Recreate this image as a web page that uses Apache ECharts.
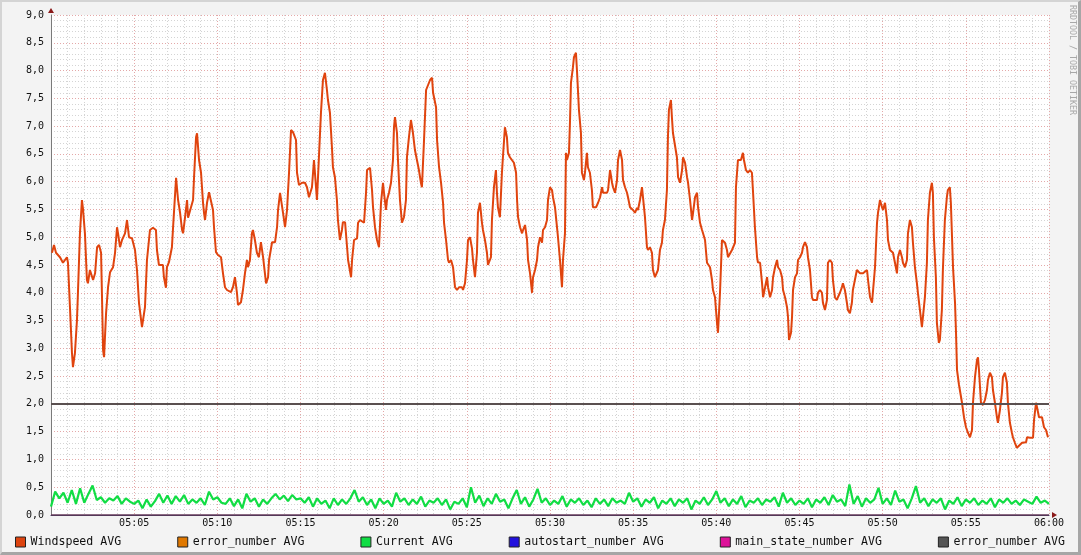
<!DOCTYPE html>
<html>
<head>
<meta charset="utf-8">
<script src="https://cdn.jsdelivr.net/npm/echarts@6/dist/echarts.min.js"></script>
<style>
html,body{margin:0;padding:0;background:#f3f3f3;}
#wrap{position:relative;width:1081px;height:555px;}
#chart{position:absolute;left:0;top:0;width:1081px;height:555px;}
#frame{position:absolute;left:0;top:0;width:1081px;height:555px;box-sizing:border-box;
 border-top:2px solid #d4d4d4;border-left:2px solid #d4d4d4;border-right:3px solid #a6a6a6;border-bottom:3px solid #a6a6a6;pointer-events:none;}
</style>
</head>
<body>
<div id="wrap"><div id="chart"></div><div id="frame"></div></div>
<script>
// ---- data (minutes after 05:00, value) ----
const seriesNames = ['Windspeed AVG','error_number AVG','Current AVG','autostart_number AVG','main_state_number AVG','error_number AVG '];
const seriesColors = ['#dd4410','#e07800','#11dd44','#2211dd','#dd1199','#555555'];
const xTickLabels = ['05:00','05:05','05:10','05:15','05:20','05:25','05:30','05:35','05:40','05:45','05:50','05:55','06:00'];
const windspeed = [
[0.06,4.72],[0.18,4.86],[0.30,4.72],[0.54,4.64],[0.72,4.54],[0.96,4.64],[1.02,4.54],[1.14,3.74],[1.26,2.92],[1.32,2.66],
[1.44,2.92],[1.56,3.5],[1.62,4.0],[1.74,5.07],[1.86,5.67],[1.92,5.52],[2.04,5.07],[2.16,4.23],[2.22,4.17],[2.34,4.41],
[2.53,4.23],[2.65,4.35],[2.77,4.82],[2.89,4.86],[3.01,4.72],[3.07,3.87],[3.13,2.97],[3.19,2.84],[3.31,3.63],[3.43,4.1],
[3.55,4.37],[3.73,4.46],[3.85,4.72],[3.97,5.18],[4.03,5.07],[4.15,4.82],[4.27,4.95],[4.45,5.07],[4.57,5.31],[4.69,5.0],
[4.87,4.98],[5.05,4.77],[5.17,4.41],[5.29,3.82],[5.47,3.38],[5.53,3.37],[5.65,3.74],[5.77,4.59],[5.95,5.13],[6.13,5.17],
[6.31,5.13],[6.37,4.77],[6.49,4.5],[6.73,4.5],[6.79,4.28],[6.91,4.09],[6.97,4.46],[7.09,4.55],[7.27,4.82],[7.33,5.13],
[7.52,6.07],[7.64,5.67],[7.76,5.44],[7.88,5.13],[7.94,5.07],[8.06,5.36],[8.18,5.67],[8.24,5.35],[8.36,5.36],[8.54,5.67],
[8.60,6.08],[8.72,6.8],[8.78,6.87],[8.90,6.39],[9.02,6.16],[9.14,5.62],[9.20,5.44],[9.26,5.31],[9.38,5.62],[9.50,5.81],
[9.62,5.81],[9.74,5.49],[9.80,5.18],[9.92,4.73],[10.04,4.68],[10.22,4.64],[10.34,4.35],[10.46,4.1],[10.58,4.05],[10.82,4.01],
[10.94,4.1],[11.06,4.28],[11.18,4.0],[11.24,3.78],[11.42,3.83],[11.54,4.05],[11.66,4.35],[11.78,4.59],[11.84,4.46],[11.96,4.59],
[12.08,5.07],[12.14,5.13],[12.26,4.95],[12.38,4.72],[12.50,4.64],[12.62,4.91],[12.75,4.64],[12.93,4.17],[13.05,4.28],[13.11,4.59],
[13.29,4.91],[13.47,4.91],[13.59,5.18],[13.65,5.49],[13.77,5.8],[13.89,5.8],[13.95,5.44],[14.07,5.18],[14.19,5.49],[14.31,6.16],
[14.43,6.93],[14.55,6.89],[14.73,6.75],[14.79,6.16],[14.91,5.94],[15.09,5.98],[15.27,5.98],[15.39,5.9],[15.51,5.72],[15.69,5.9],
[15.81,6.39],[15.93,6.39],[15.99,5.67],[16.11,5.67],[16.23,7.24],[16.35,7.83],[16.47,7.96],[16.59,7.65],[16.65,7.47],[16.77,7.24],
[16.89,6.62],[16.95,6.26],[17.07,6.08],[17.19,5.67],[17.25,5.31],[17.37,4.95],[17.49,5.13],[17.55,5.27],[17.68,5.27],[17.80,4.82],
[17.86,4.59],[18.04,4.28],[18.10,4.59],[18.22,4.95],[18.40,4.98],[18.46,5.26],[18.58,5.31],[18.82,5.26],[18.94,5.8],[19.00,6.21],
[19.18,6.25],[19.30,5.85],[19.36,5.54],[19.48,5.18],[19.60,4.95],[19.72,4.82],[19.84,5.62],[19.96,5.98],[20.02,5.8],[20.14,5.49],
[20.20,5.67],[20.32,5.8],[20.44,5.98],[20.56,6.39],[20.62,6.98],[20.68,7.16],[20.80,6.88],[20.86,6.39],[20.98,5.67],[21.10,5.26],
[21.22,5.36],[21.34,5.67],[21.40,6.44],[21.52,6.8],[21.64,7.11],[21.76,6.88],[21.88,6.57],[22.00,6.39],[22.12,6.21],[22.24,5.98],
[22.30,5.9],[22.42,6.7],[22.55,7.65],[22.67,7.74],[22.79,7.83],[22.91,7.87],[22.97,7.6],[23.15,7.34],[23.21,6.75],[23.33,6.26],
[23.45,5.98],[23.57,5.62],[23.63,5.26],[23.75,4.95],[23.87,4.59],[23.93,4.54],[24.05,4.59],[24.17,4.46],[24.29,4.1],[24.41,4.05],
[24.53,4.1],[24.71,4.1],[24.77,4.05],[24.89,4.17],[25.01,4.59],[25.07,4.95],[25.19,5.0],[25.31,4.8],[25.37,4.59],[25.49,4.28],
[25.61,4.72],[25.67,5.44],[25.79,5.62],[25.91,5.26],[25.97,5.13],[26.09,4.95],[26.21,4.72],[26.27,4.5],[26.45,4.64],[26.51,5.31],
[26.63,5.9],[26.75,6.21],[26.81,5.8],[26.87,5.54],[26.99,5.36],[27.11,6.16],[27.17,6.44],[27.29,6.98],[27.41,6.8],[27.47,6.52],
[27.59,6.44],[27.71,6.43],[27.83,6.34],[27.96,6.16],[28.02,5.67],[28.08,5.36],[28.20,5.18],[28.32,5.07],[28.38,5.13],[28.50,5.22],
[28.62,4.95],[28.68,4.59],[28.80,4.35],[28.92,4.0],[28.98,4.28],[29.10,4.41],[29.22,4.59],[29.28,4.82],[29.40,5.0],[29.52,4.9],
[29.58,5.13],[29.70,5.18],[29.82,5.31],[29.88,5.67],[30.00,5.9],[30.12,5.85],[30.18,5.72],[30.30,5.54],[30.42,5.18],[30.48,5.0],
[30.60,4.59],[30.72,4.1],[30.78,4.59],[30.90,5.07],[30.96,6.52],[31.02,6.39],[31.14,6.52],[31.20,7.06],[31.26,7.78],[31.38,8.06],
[31.44,8.24],[31.56,8.32],[31.62,8.01],[31.68,7.65],[31.74,7.29],[31.86,6.88],[31.92,6.16],[32.04,6.03],[32.10,6.16],[32.22,6.52],
[32.28,6.26],[32.40,6.16],[32.52,5.85],[32.58,5.54],[32.77,5.54],[32.89,5.62],[33.01,5.72],[33.13,5.9],[33.19,5.8],[33.43,5.8],
[33.49,5.85],[33.61,6.21],[33.73,5.98],[33.79,5.9],[33.91,5.8],[34.03,6.03],[34.09,6.39],[34.21,6.57],[34.33,6.39],[34.39,6.03],
[34.51,5.9],[34.63,5.8],[34.69,5.72],[34.81,5.54],[34.93,5.54],[34.99,5.49],[35.11,5.44],[35.23,5.53],[35.29,5.49],[35.41,5.67],
[35.53,5.9],[35.59,5.72],[35.71,5.36],[35.83,4.82],[35.89,4.77],[36.01,4.82],[36.13,4.72],[36.19,4.41],[36.31,4.28],[36.43,4.28],
[36.49,4.41],[36.61,4.77],[36.73,4.9],[36.79,5.13],[36.91,5.31],[37.03,5.85],[37.09,6.8],[37.15,7.29],[37.27,7.47],[37.33,7.16],
[37.39,6.88],[37.51,6.88],[37.63,6.44],[37.70,6.08],[37.82,5.98],[37.94,6.21],[38.00,6.44],[38.12,6.34],[38.24,6.08],[38.30,5.98],
[38.42,5.67],[38.54,5.31],[38.60,5.44],[38.72,5.72],[38.84,5.8],[38.90,5.54],[39.02,5.26],[39.14,5.13],[39.20,5.07],[39.32,4.95],
[39.44,4.54],[39.50,4.54],[39.62,4.46],[39.74,4.23],[39.80,4.05],[39.92,3.92],[40.04,3.46],[40.10,3.28],[40.22,4.0],[40.34,4.95],
[40.40,4.95],[40.52,4.9],[40.64,4.77],[40.70,4.64],[40.82,4.64],[40.94,4.77],[41.00,4.77],[41.12,4.9],[41.18,5.9],[41.30,6.39],
[41.48,6.39],[41.60,6.52],[41.66,6.39],[41.78,6.21],[41.90,6.16],[42.02,6.21],[42.14,6.16],[42.20,5.85],[42.32,5.18],[42.45,4.64],
[42.50,4.55],[42.63,4.54],[42.75,4.17],[42.81,3.92],[42.93,4.1],[43.05,4.28],[43.11,4.1],[43.23,3.92],[43.35,4.05],[43.41,4.28],
[43.53,4.46],[43.65,4.59],[43.71,4.46],[43.83,4.41],[43.95,4.28],[44.01,4.05],[44.13,3.92],[44.25,3.74],[44.31,3.56],[44.37,3.15],
[44.49,3.28],[44.55,3.56],[44.61,4.05],[44.73,4.28],[44.85,4.35],[44.91,4.59],[45.03,4.64],[45.15,4.72],[45.21,4.82],[45.33,4.91],
[45.45,4.82],[45.51,4.64],[45.63,4.41],[45.75,3.92],[45.81,3.87],[46.05,3.87],[46.11,4.0],[46.23,4.05],[46.35,4.0],[46.41,3.82],
[46.53,3.69],[46.65,3.87],[46.71,4.54],[46.83,4.59],[46.95,4.54],[47.01,4.23],[47.13,3.92],[47.25,3.87],[47.31,3.92],[47.43,4.0],
[47.55,4.1],[47.61,4.17],[47.73,4.05],[47.85,3.82],[47.91,3.69],[48.03,3.63],[48.15,3.82],[48.21,4.05],[48.33,4.23],[48.45,4.41],
[48.52,4.41],[48.64,4.35],[48.82,4.35],[48.94,4.37],[49.06,4.41],[49.12,4.23],[49.24,3.92],[49.36,3.82],[49.42,3.82],[49.54,4.46],
[49.66,5.26],[49.72,5.44],[49.84,5.67],[49.96,5.54],[50.02,5.49],[50.14,5.62],[50.26,5.31],[50.32,4.95],[50.44,4.77],[50.62,4.72],
[50.74,4.54],[50.86,4.35],[50.92,4.64],[51.04,4.77],[51.16,4.64],[51.22,4.54],[51.34,4.46],[51.46,4.59],[51.52,5.07],[51.64,5.31],
[51.76,5.18],[51.82,4.9],[51.94,4.46],[52.06,4.17],[52.12,4.0],[52.24,3.69],[52.36,3.38],[52.42,3.38],[52.54,3.92],[52.66,4.54],
[52.72,5.31],[52.84,5.8],[52.96,5.98],[53.02,5.8],[53.08,5.0],[53.20,4.28],[53.26,3.46],[53.38,3.1],[53.44,3.15],[53.56,3.69],
[53.62,4.41],[53.74,5.31],[53.86,5.72],[53.92,5.85],[54.04,5.9],[54.10,5.62],[54.17,5.0],[54.23,4.46],[54.35,3.82],[54.41,3.28],
[54.47,2.61],[54.59,2.34],[54.71,2.34],[54.77,2.02],[54.89,1.76],[55.01,1.58],[55.13,1.48],[55.25,1.4],[55.37,1.53],[55.43,2.02],
[55.55,2.48],[55.67,2.79],[55.73,2.84],[55.79,2.61],[55.91,2.02],[56.03,1.98],[56.15,2.07],[56.27,2.25],[56.33,2.43],[56.45,2.56],
[56.57,2.48],[56.63,2.25],[56.75,2.02],[56.87,1.76],[56.93,1.66],[57.05,1.89],[57.17,2.2],[57.23,2.48],[57.35,2.56],[57.47,2.38],
[57.53,2.02],[57.65,1.66],[57.77,1.48],[57.83,1.4],[57.95,1.3],[58.07,1.21],[58.19,1.21],[58.38,1.3],[58.44,1.31],[58.62,1.31],
[58.68,1.4],[58.86,1.39],[59.04,1.39],[59.10,1.71],[59.22,2.02],[59.28,1.94],[59.40,1.76],[59.58,1.76],[59.70,1.58],[59.82,1.53],
[59.94,1.4]
];
const currentStartMin = 0, currentStepMin = 0.25;
const currentValues = [
0.15,0.42,0.3,0.4,0.22,0.45,0.2,0.48,0.22,0.38,0.53,0.27,0.32,0.22,0.3,0.26,0.34,0.2,0.3,0.24,
0.2,0.26,0.12,0.28,0.15,0.25,0.38,0.22,0.35,0.2,0.34,0.24,0.36,0.2,0.28,0.22,0.3,0.18,0.42,0.28,
0.32,0.22,0.2,0.3,0.16,0.28,0.12,0.38,0.24,0.3,0.15,0.28,0.2,0.3,0.38,0.28,0.35,0.25,0.36,0.28,0.3,
0.22,0.32,0.15,0.3,0.2,0.26,0.12,0.3,0.18,0.28,
0.2,0.3,0.45,0.24,0.32,0.18,0.28,0.12,0.3,0.2,
0.26,0.15,0.4,0.24,0.3,0.18,0.28,0.2,0.33,0.15,
0.26,0.22,0.3,0.18,0.28,0.1,0.24,0.2,0.3,0.14,
0.5,0.22,0.35,0.16,0.3,0.2,0.38,0.24,0.28,0.12,
0.3,0.45,0.2,0.32,0.15,0.28,0.47,0.22,0.3,0.18,
0.26,0.2,0.34,0.15,0.28,0.22,0.3,0.18,0.26,0.14,
0.3,0.2,0.28,0.16,0.3,0.22,0.26,0.2,0.4,0.24,
0.3,0.15,0.28,0.22,0.32,0.12,0.26,0.2,0.3,0.16,
0.28,0.22,0.3,0.1,0.26,0.2,0.32,0.18,0.28,0.43,
0.22,0.3,0.16,0.28,0.2,0.34,0.14,0.26,0.22,0.3,
0.18,0.28,0.24,0.32,0.15,0.4,0.22,0.3,0.18,0.26,
0.2,0.3,0.14,0.28,0.22,0.32,0.18,0.36,0.24,0.28,
0.16,0.55,0.2,0.34,0.15,0.3,0.22,0.28,0.49,0.2,
0.3,0.18,0.44,0.24,0.28,0.12,0.3,0.52,0.22,0.3,
0.16,0.28,0.22,0.3,0.1,0.26,0.2,0.32,0.16,0.28,
0.22,0.3,0.18,0.26,0.2,0.3,0.14,0.28,0.22,0.3,
0.2,0.26,0.18,0.28,0.24,0.2,0.33,0.22,0.26,0.2
];
const errorNumber1 = [[0,0],[60,0]];
const autostartNumber = [[0,0],[60,0]];
const mainStateNumber = [];
const errorNumber2 = [[0,2],[60,2]];

// ---- chart ----
const FONT = 'DejaVu Sans Mono';
const G = {left:51, top:15, right:32, bottom:40};
const currentData = currentValues.map((v,i)=>[currentStartMin + i*currentStepMin, v]);
const chart = echarts.init(document.getElementById('chart'), null, {renderer:'canvas'});
const dataSets = [windspeed, errorNumber1, currentData, autostartNumber, mainStateNumber, errorNumber2];
const widths = [2,1,2.2,1,1,2];
const lineColors = ['#e0440e','#e07800','#11dd44','#2a1c88','#dd1199','#5a5050'];
const series = seriesNames.map((n,i)=>({
  name:n, type:'line', data:dataSets[i], showSymbol:false, symbol:'none', animation:false,
  color:seriesColors[i], lineStyle:{color:lineColors[i], width:widths[i]}, z:2+i
}));
chart.setOption({
  animation:false,
  backgroundColor:'#f3f3f3',
  textStyle:{fontFamily:FONT},
  grid:{left:G.left, top:G.top, right:G.right, bottom:G.bottom, show:true, backgroundColor:'#ffffff', borderWidth:0},
  xAxis:{type:'value', min:0, max:60, interval:5,
    axisLine:{show:true, onZero:false, lineStyle:{color:'#3a2f60', width:1}},
    axisTick:{show:false},
    axisLabel:{color:'#111', fontFamily:FONT, fontSize:10, margin:3, showMinLabel:false,
      formatter:v=>xTickLabels[Math.round(v/5)] || ''},
    splitLine:{show:true, lineStyle:{color:'#e4a8a8', type:[1,2], width:1}},
    minorTick:{show:false, splitNumber:5},
    minorSplitLine:{show:true, lineStyle:{color:'#d4d4d4', type:[1,2], width:1}}
  },
  yAxis:{type:'value', min:0, max:9, interval:0.5,
    axisLine:{show:true, lineStyle:{color:'#7a7a7a', width:1}},
    axisTick:{show:false},
    axisLabel:{color:'#111', fontFamily:FONT, fontSize:10, margin:7,
      formatter:v=>v.toFixed(1).replace('.',',')},
    splitLine:{show:true, lineStyle:{color:'#e4a8a8', type:[1,2], width:1}},
    minorTick:{show:false, splitNumber:5},
    minorSplitLine:{show:true, lineStyle:{color:'#d4d4d4', type:[1,2], width:1}}
  },
  legend:{left:15, top:536, padding:0, itemWidth:10, itemHeight:10, itemGap:56, icon:'rect',
    itemStyle:{borderColor:'#222', borderWidth:1},
    textStyle:{fontFamily:FONT, fontSize:11.6, color:'#111'},
    selectedMode:false,
    data:seriesNames.map((n,i)=>({name:n, icon:'rect', itemStyle:{color:seriesColors[i], borderColor:'#222', borderWidth:1}})),
    formatter:n=>n.trim()
  },
  graphic:[
    {type:'polygon', shape:{points:[[G.left-3,G.top-2],[G.left+3,G.top-2],[G.left,G.top-7]]}, style:{fill:'#8b1a1a'}, z:100},
    {type:'polygon', shape:{points:[[1081-G.right+3,555-G.bottom-3],[1081-G.right+3,555-G.bottom+3],[1081-G.right+8,555-G.bottom]]}, style:{fill:'#8b1a1a'}, z:100},
    {type:'text', x:1076, y:5, rotation:-Math.PI/2, style:{text:'RRDTOOL / TOBI OETIKER', fontFamily:FONT, fontSize:8.3, fill:'#a8a8a8', textAlign:'left', textVerticalAlign:'top'}, z:100}
  ],
  series:series
});
</script>
</body>
</html>
